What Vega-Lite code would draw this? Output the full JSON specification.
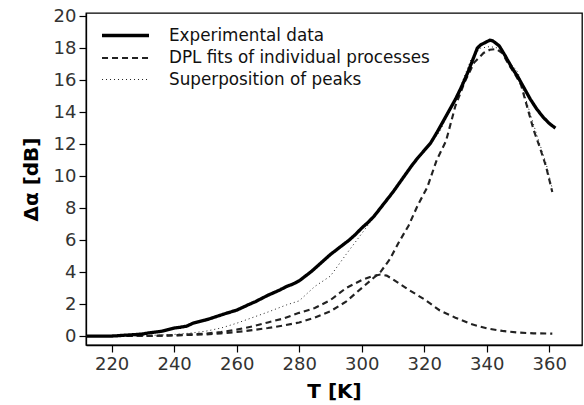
{
  "$schema": "https://vega.github.io/schema/vega-lite/v6.json",
  "width": 496,
  "height": 332,
  "autosize": {"type": "none"},
  "padding": {"left": 86, "top": 13, "right": 2, "bottom": 60},
  "background": "white",
  "config": {
    "font": "DejaVu Sans",
    "view": {"stroke": "#000", "strokeWidth": 1.3},
    "axis": {
      "domainColor": "#000",
      "domainWidth": 1.3,
      "tickColor": "#000",
      "tickWidth": 1.2,
      "tickSize": 7,
      "labelColor": "#333",
      "labelFont": "DejaVu Sans",
      "labelFontSize": 18,
      "labelPadding": 3,
      "titleFont": "DejaVu Sans",
      "titleFontSize": 20,
      "titleFontWeight": "bold",
      "titleColor": "#000",
      "grid": false
    },
    "legend": {
      "labelFont": "DejaVu Sans",
      "labelFontSize": 16.8,
      "labelColor": "#111",
      "labelLimit": 0
    }
  },
  "datasets": {
    "curves": [
      {"T": 212, "v": 0, "curve": "fit1", "series": "DPL fits of individual processes"},
      {"T": 230, "v": 0, "curve": "fit1", "series": "DPL fits of individual processes"},
      {"T": 235, "v": 0.02, "curve": "fit1", "series": "DPL fits of individual processes"},
      {"T": 240, "v": 0.05, "curve": "fit1", "series": "DPL fits of individual processes"},
      {"T": 245, "v": 0.1, "curve": "fit1", "series": "DPL fits of individual processes"},
      {"T": 250, "v": 0.15, "curve": "fit1", "series": "DPL fits of individual processes"},
      {"T": 255, "v": 0.25, "curve": "fit1", "series": "DPL fits of individual processes"},
      {"T": 260, "v": 0.4, "curve": "fit1", "series": "DPL fits of individual processes"},
      {"T": 265, "v": 0.6, "curve": "fit1", "series": "DPL fits of individual processes"},
      {"T": 270, "v": 0.85, "curve": "fit1", "series": "DPL fits of individual processes"},
      {"T": 275, "v": 1.1, "curve": "fit1", "series": "DPL fits of individual processes"},
      {"T": 280, "v": 1.45, "curve": "fit1", "series": "DPL fits of individual processes"},
      {"T": 285, "v": 1.75, "curve": "fit1", "series": "DPL fits of individual processes"},
      {"T": 290, "v": 2.25, "curve": "fit1", "series": "DPL fits of individual processes"},
      {"T": 295, "v": 3.0, "curve": "fit1", "series": "DPL fits of individual processes"},
      {"T": 300, "v": 3.5, "curve": "fit1", "series": "DPL fits of individual processes"},
      {"T": 303, "v": 3.72, "curve": "fit1", "series": "DPL fits of individual processes"},
      {"T": 306, "v": 3.85, "curve": "fit1", "series": "DPL fits of individual processes"},
      {"T": 308, "v": 3.78, "curve": "fit1", "series": "DPL fits of individual processes"},
      {"T": 310, "v": 3.55, "curve": "fit1", "series": "DPL fits of individual processes"},
      {"T": 315, "v": 2.9, "curve": "fit1", "series": "DPL fits of individual processes"},
      {"T": 320, "v": 2.3, "curve": "fit1", "series": "DPL fits of individual processes"},
      {"T": 325, "v": 1.6, "curve": "fit1", "series": "DPL fits of individual processes"},
      {"T": 330, "v": 1.15, "curve": "fit1", "series": "DPL fits of individual processes"},
      {"T": 335, "v": 0.75, "curve": "fit1", "series": "DPL fits of individual processes"},
      {"T": 340, "v": 0.48, "curve": "fit1", "series": "DPL fits of individual processes"},
      {"T": 345, "v": 0.32, "curve": "fit1", "series": "DPL fits of individual processes"},
      {"T": 350, "v": 0.22, "curve": "fit1", "series": "DPL fits of individual processes"},
      {"T": 355, "v": 0.17, "curve": "fit1", "series": "DPL fits of individual processes"},
      {"T": 361, "v": 0.15, "curve": "fit1", "series": "DPL fits of individual processes"},

      {"T": 212, "v": 0, "curve": "fit2", "series": "DPL fits of individual processes"},
      {"T": 230, "v": 0, "curve": "fit2", "series": "DPL fits of individual processes"},
      {"T": 240, "v": 0.04, "curve": "fit2", "series": "DPL fits of individual processes"},
      {"T": 250, "v": 0.1, "curve": "fit2", "series": "DPL fits of individual processes"},
      {"T": 255, "v": 0.17, "curve": "fit2", "series": "DPL fits of individual processes"},
      {"T": 260, "v": 0.25, "curve": "fit2", "series": "DPL fits of individual processes"},
      {"T": 265, "v": 0.37, "curve": "fit2", "series": "DPL fits of individual processes"},
      {"T": 270, "v": 0.5, "curve": "fit2", "series": "DPL fits of individual processes"},
      {"T": 275, "v": 0.66, "curve": "fit2", "series": "DPL fits of individual processes"},
      {"T": 280, "v": 0.85, "curve": "fit2", "series": "DPL fits of individual processes"},
      {"T": 285, "v": 1.15, "curve": "fit2", "series": "DPL fits of individual processes"},
      {"T": 290, "v": 1.55, "curve": "fit2", "series": "DPL fits of individual processes"},
      {"T": 295, "v": 2.15, "curve": "fit2", "series": "DPL fits of individual processes"},
      {"T": 300, "v": 3.0, "curve": "fit2", "series": "DPL fits of individual processes"},
      {"T": 303, "v": 3.5, "curve": "fit2", "series": "DPL fits of individual processes"},
      {"T": 306, "v": 4.0, "curve": "fit2", "series": "DPL fits of individual processes"},
      {"T": 309, "v": 4.8, "curve": "fit2", "series": "DPL fits of individual processes"},
      {"T": 312, "v": 5.9, "curve": "fit2", "series": "DPL fits of individual processes"},
      {"T": 315, "v": 6.9, "curve": "fit2", "series": "DPL fits of individual processes"},
      {"T": 318, "v": 8.2, "curve": "fit2", "series": "DPL fits of individual processes"},
      {"T": 321, "v": 9.3, "curve": "fit2", "series": "DPL fits of individual processes"},
      {"T": 324, "v": 11.0, "curve": "fit2", "series": "DPL fits of individual processes"},
      {"T": 327, "v": 12.2, "curve": "fit2", "series": "DPL fits of individual processes"},
      {"T": 330, "v": 14.4, "curve": "fit2", "series": "DPL fits of individual processes"},
      {"T": 333, "v": 15.9, "curve": "fit2", "series": "DPL fits of individual processes"},
      {"T": 336, "v": 17.1, "curve": "fit2", "series": "DPL fits of individual processes"},
      {"T": 339, "v": 17.7, "curve": "fit2", "series": "DPL fits of individual processes"},
      {"T": 341, "v": 17.9, "curve": "fit2", "series": "DPL fits of individual processes"},
      {"T": 343, "v": 17.95, "curve": "fit2", "series": "DPL fits of individual processes"},
      {"T": 345, "v": 17.7, "curve": "fit2", "series": "DPL fits of individual processes"},
      {"T": 347, "v": 17.0, "curve": "fit2", "series": "DPL fits of individual processes"},
      {"T": 349, "v": 16.4, "curve": "fit2", "series": "DPL fits of individual processes"},
      {"T": 351, "v": 15.7, "curve": "fit2", "series": "DPL fits of individual processes"},
      {"T": 353, "v": 14.3, "curve": "fit2", "series": "DPL fits of individual processes"},
      {"T": 355, "v": 12.9, "curve": "fit2", "series": "DPL fits of individual processes"},
      {"T": 357, "v": 11.8, "curve": "fit2", "series": "DPL fits of individual processes"},
      {"T": 359, "v": 10.6, "curve": "fit2", "series": "DPL fits of individual processes"},
      {"T": 361, "v": 9.0, "curve": "fit2", "series": "DPL fits of individual processes"},

      {"T": 212, "v": 0, "curve": "sum", "series": "Superposition of peaks"},
      {"T": 230, "v": 0.02, "curve": "sum", "series": "Superposition of peaks"},
      {"T": 240, "v": 0.1, "curve": "sum", "series": "Superposition of peaks"},
      {"T": 245, "v": 0.18, "curve": "sum", "series": "Superposition of peaks"},
      {"T": 250, "v": 0.3, "curve": "sum", "series": "Superposition of peaks"},
      {"T": 255, "v": 0.5, "curve": "sum", "series": "Superposition of peaks"},
      {"T": 260, "v": 0.8, "curve": "sum", "series": "Superposition of peaks"},
      {"T": 265, "v": 1.15, "curve": "sum", "series": "Superposition of peaks"},
      {"T": 270, "v": 1.5, "curve": "sum", "series": "Superposition of peaks"},
      {"T": 276, "v": 1.95, "curve": "sum", "series": "Superposition of peaks"},
      {"T": 280, "v": 2.2, "curve": "sum", "series": "Superposition of peaks"},
      {"T": 285, "v": 3.1, "curve": "sum", "series": "Superposition of peaks"},
      {"T": 290, "v": 3.75, "curve": "sum", "series": "Superposition of peaks"},
      {"T": 295, "v": 5.1, "curve": "sum", "series": "Superposition of peaks"},
      {"T": 300, "v": 6.4, "curve": "sum", "series": "Superposition of peaks"},
      {"T": 303, "v": 7.2, "curve": "sum", "series": "Superposition of peaks"},
      {"T": 306, "v": 8.0, "curve": "sum", "series": "Superposition of peaks"},
      {"T": 310, "v": 9.0, "curve": "sum", "series": "Superposition of peaks"},
      {"T": 315, "v": 10.4, "curve": "sum", "series": "Superposition of peaks"},
      {"T": 320, "v": 11.5, "curve": "sum", "series": "Superposition of peaks"},
      {"T": 325, "v": 12.8, "curve": "sum", "series": "Superposition of peaks"},
      {"T": 330, "v": 14.8, "curve": "sum", "series": "Superposition of peaks"},
      {"T": 335, "v": 17.3, "curve": "sum", "series": "Superposition of peaks"},
      {"T": 338, "v": 18.0, "curve": "sum", "series": "Superposition of peaks"},
      {"T": 341, "v": 18.1, "curve": "sum", "series": "Superposition of peaks"},
      {"T": 344, "v": 18.0, "curve": "sum", "series": "Superposition of peaks"},
      {"T": 347, "v": 17.2, "curve": "sum", "series": "Superposition of peaks"},
      {"T": 350, "v": 16.5, "curve": "sum", "series": "Superposition of peaks"},
      {"T": 353, "v": 14.5, "curve": "sum", "series": "Superposition of peaks"},
      {"T": 356, "v": 12.6, "curve": "sum", "series": "Superposition of peaks"},
      {"T": 359, "v": 10.8, "curve": "sum", "series": "Superposition of peaks"},
      {"T": 361, "v": 9.2, "curve": "sum", "series": "Superposition of peaks"},

      {"T": 212, "v": 0, "curve": "exp", "series": "Experimental data"},
      {"T": 216, "v": 0, "curve": "exp", "series": "Experimental data"},
      {"T": 220, "v": 0, "curve": "exp", "series": "Experimental data"},
      {"T": 222, "v": 0.02, "curve": "exp", "series": "Experimental data"},
      {"T": 224, "v": 0.05, "curve": "exp", "series": "Experimental data"},
      {"T": 226, "v": 0.07, "curve": "exp", "series": "Experimental data"},
      {"T": 228, "v": 0.1, "curve": "exp", "series": "Experimental data"},
      {"T": 230, "v": 0.13, "curve": "exp", "series": "Experimental data"},
      {"T": 232, "v": 0.2, "curve": "exp", "series": "Experimental data"},
      {"T": 234, "v": 0.25, "curve": "exp", "series": "Experimental data"},
      {"T": 236, "v": 0.3, "curve": "exp", "series": "Experimental data"},
      {"T": 238, "v": 0.4, "curve": "exp", "series": "Experimental data"},
      {"T": 240, "v": 0.5, "curve": "exp", "series": "Experimental data"},
      {"T": 242, "v": 0.55, "curve": "exp", "series": "Experimental data"},
      {"T": 244, "v": 0.62, "curve": "exp", "series": "Experimental data"},
      {"T": 246, "v": 0.8, "curve": "exp", "series": "Experimental data"},
      {"T": 248, "v": 0.9, "curve": "exp", "series": "Experimental data"},
      {"T": 250, "v": 1.0, "curve": "exp", "series": "Experimental data"},
      {"T": 252, "v": 1.12, "curve": "exp", "series": "Experimental data"},
      {"T": 254, "v": 1.25, "curve": "exp", "series": "Experimental data"},
      {"T": 256, "v": 1.38, "curve": "exp", "series": "Experimental data"},
      {"T": 258, "v": 1.5, "curve": "exp", "series": "Experimental data"},
      {"T": 260, "v": 1.62, "curve": "exp", "series": "Experimental data"},
      {"T": 262, "v": 1.8, "curve": "exp", "series": "Experimental data"},
      {"T": 264, "v": 1.98, "curve": "exp", "series": "Experimental data"},
      {"T": 266, "v": 2.15, "curve": "exp", "series": "Experimental data"},
      {"T": 268, "v": 2.35, "curve": "exp", "series": "Experimental data"},
      {"T": 270, "v": 2.55, "curve": "exp", "series": "Experimental data"},
      {"T": 272, "v": 2.72, "curve": "exp", "series": "Experimental data"},
      {"T": 274, "v": 2.9, "curve": "exp", "series": "Experimental data"},
      {"T": 276, "v": 3.1, "curve": "exp", "series": "Experimental data"},
      {"T": 278, "v": 3.25, "curve": "exp", "series": "Experimental data"},
      {"T": 280, "v": 3.45, "curve": "exp", "series": "Experimental data"},
      {"T": 282, "v": 3.75, "curve": "exp", "series": "Experimental data"},
      {"T": 284, "v": 4.05, "curve": "exp", "series": "Experimental data"},
      {"T": 286, "v": 4.4, "curve": "exp", "series": "Experimental data"},
      {"T": 288, "v": 4.75, "curve": "exp", "series": "Experimental data"},
      {"T": 290, "v": 5.1, "curve": "exp", "series": "Experimental data"},
      {"T": 292, "v": 5.4, "curve": "exp", "series": "Experimental data"},
      {"T": 294, "v": 5.7, "curve": "exp", "series": "Experimental data"},
      {"T": 296, "v": 6.0, "curve": "exp", "series": "Experimental data"},
      {"T": 298, "v": 6.35, "curve": "exp", "series": "Experimental data"},
      {"T": 300, "v": 6.75, "curve": "exp", "series": "Experimental data"},
      {"T": 302, "v": 7.1, "curve": "exp", "series": "Experimental data"},
      {"T": 304, "v": 7.5, "curve": "exp", "series": "Experimental data"},
      {"T": 306, "v": 8.0, "curve": "exp", "series": "Experimental data"},
      {"T": 308, "v": 8.5, "curve": "exp", "series": "Experimental data"},
      {"T": 310, "v": 9.0, "curve": "exp", "series": "Experimental data"},
      {"T": 312, "v": 9.55, "curve": "exp", "series": "Experimental data"},
      {"T": 314, "v": 10.1, "curve": "exp", "series": "Experimental data"},
      {"T": 316, "v": 10.65, "curve": "exp", "series": "Experimental data"},
      {"T": 318, "v": 11.15, "curve": "exp", "series": "Experimental data"},
      {"T": 320, "v": 11.6, "curve": "exp", "series": "Experimental data"},
      {"T": 322, "v": 12.05, "curve": "exp", "series": "Experimental data"},
      {"T": 324, "v": 12.7, "curve": "exp", "series": "Experimental data"},
      {"T": 326, "v": 13.4, "curve": "exp", "series": "Experimental data"},
      {"T": 328, "v": 14.1, "curve": "exp", "series": "Experimental data"},
      {"T": 330, "v": 14.8, "curve": "exp", "series": "Experimental data"},
      {"T": 332, "v": 15.6, "curve": "exp", "series": "Experimental data"},
      {"T": 334, "v": 16.5, "curve": "exp", "series": "Experimental data"},
      {"T": 336, "v": 17.5, "curve": "exp", "series": "Experimental data"},
      {"T": 337, "v": 18.0, "curve": "exp", "series": "Experimental data"},
      {"T": 338, "v": 18.2, "curve": "exp", "series": "Experimental data"},
      {"T": 340, "v": 18.4, "curve": "exp", "series": "Experimental data"},
      {"T": 341, "v": 18.5, "curve": "exp", "series": "Experimental data"},
      {"T": 342, "v": 18.45, "curve": "exp", "series": "Experimental data"},
      {"T": 344, "v": 18.15, "curve": "exp", "series": "Experimental data"},
      {"T": 346, "v": 17.5, "curve": "exp", "series": "Experimental data"},
      {"T": 348, "v": 16.8, "curve": "exp", "series": "Experimental data"},
      {"T": 350, "v": 16.2, "curve": "exp", "series": "Experimental data"},
      {"T": 352, "v": 15.5, "curve": "exp", "series": "Experimental data"},
      {"T": 354, "v": 14.8, "curve": "exp", "series": "Experimental data"},
      {"T": 356, "v": 14.2, "curve": "exp", "series": "Experimental data"},
      {"T": 358, "v": 13.7, "curve": "exp", "series": "Experimental data"},
      {"T": 360, "v": 13.3, "curve": "exp", "series": "Experimental data"},
      {"T": 362, "v": 13.0, "curve": "exp", "series": "Experimental data"}
    ]
  },
  "data": {"name": "curves"},
  "mark": {"type": "line", "strokeCap": "butt", "strokeJoin": "miter"},
  "encoding": {
    "x": {
      "field": "T", "type": "quantitative",
      "scale": {"domain": [211.8, 370.5], "nice": false, "zero": false},
      "axis": {"values": [220, 240, 260, 280, 300, 320, 340, 360], "title": "T [K]", "titlePadding": 8}
    },
    "y": {
      "field": "v", "type": "quantitative",
      "scale": {"domain": [-0.56, 20.2], "nice": false, "zero": false},
      "axis": {"values": [0, 2, 4, 6, 8, 10, 12, 14, 16, 18, 20], "title": "Δα [dB]", "titlePadding": 12}
    },
    "detail": {"field": "curve"},
    "order": {"field": "T"},
    "strokeDash": {
      "field": "series", "type": "nominal",
      "scale": {"domain": ["Experimental data", "DPL fits of individual processes", "Superposition of peaks"], "range": [[1, 0], [6, 4], [1, 3]]},
      "legend": {
        "title": null, "orient": "none", "legendX": 30, "legendY": 13,
        "symbolType": "M-3,0H3", "symbolSize": 245, "symbolFillColor": "transparent", "labelOffset": 34, "rowPadding": 4
      }
    },
    "strokeWidth": {
      "field": "series", "type": "nominal",
      "scale": {"domain": ["Experimental data", "DPL fits of individual processes", "Superposition of peaks"], "range": [3.3, 1, 1.1]}
    },
    "color": {
      "field": "series", "type": "nominal",
      "scale": {"domain": ["Experimental data", "DPL fits of individual processes", "Superposition of peaks"], "range": ["#000000", "#222222", "#222222"]}
    }
  }
}
